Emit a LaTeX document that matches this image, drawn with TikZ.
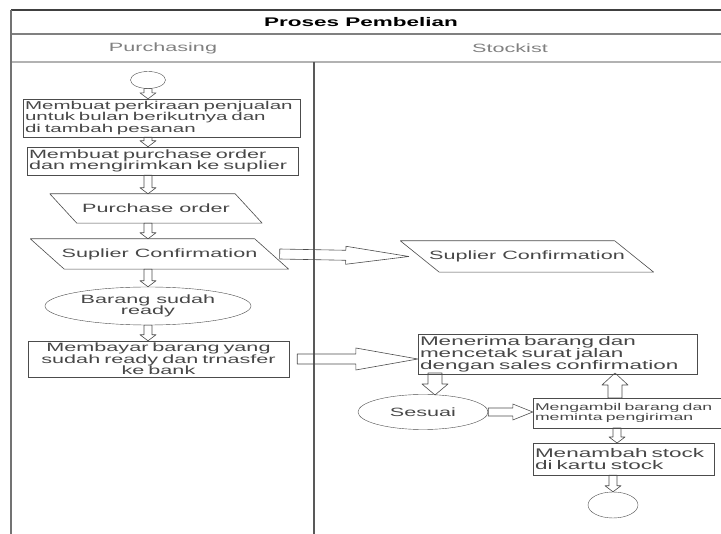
\documentclass[tikz,border=0pt]{standalone}
\usepackage{fontspec}
\newfontfamily\lanefont[FakeStretch=1.8]{Liberation Sans}
\usetikzlibrary{calc,shapes.geometric}
\def\blockarrow(#1)(#2)(#3:#4:#5){%
  \coordinate (ba) at (#1);
  \coordinate (bb) at (#2);
  \coordinate (bc) at ($(bb)!#5!(ba)$);
  \draw[arrowline] ($(ba)!#3!90:(bb)$) -- ($(bc)!#3!-90:(ba)$) -- ($(bc)!#4!-90:(ba)$) -- (bb)
    -- ($(bc)!#4!90:(ba)$) -- ($(bc)!#3!90:(ba)$) -- ($(ba)!#3!-90:(bb)$) -- cycle;}
\def\slantframe(#1)(#2){%
  \draw[arrowline] ([xshift=-#2/2]#1.north west) -- ([xshift=-#2/2]#1.north east)
    -- ([xshift=#2/2]#1.south east) -- ([xshift=#2/2]#1.south west) -- cycle;}

\tikzset{
  txt/.style={text=black!72, font=\lanefont\fontsize{12}{12}\selectfont},
  procbox/.style={txt, draw=black!70, rectangle, align=left, inner sep=2pt},
  ioshape/.style={txt, rectangle, inner sep=0pt},
  stateoval/.style={txt, draw=black!70, ellipse, align=center, inner sep=0pt},
  arrowline/.style={draw=black!70, line width=0.6pt, line join=round},
  laneline/.style={line width=1.6pt}
}

\begin{document}
\begin{tikzpicture}[x=1pt,y=-1pt]
		%%%%% START %%%%%
		\useasboundingbox (0,0) rectangle (721,534);
		
		\draw[laneline, color=black!75] (11, 10) -- (721, 10);
		\draw[laneline, color=black!50] (11, 34) -- (721, 34);
		\draw[laneline, color=black!30] (11, 62) -- (721, 62);
		\draw[laneline, color=black!55] (11, 10) -- (11, 534);
		\draw[laneline, color=black!65] (314, 62) -- (314, 534);
		
		\node[txt, text=black, font=\lanefont\bfseries\fontsize{12.5}{12.5}\selectfont] (title) at (361, 22) {Proses Pembelian};
		\node[txt, text=black!50] (hdpurch) at (163, 48) {Purchasing};
		\node[txt, text=black!50] (hdstock) at (510, 48) {Stockist};
		
		% purchasing
		\node[stateoval, minimum width=35, minimum height=17] (start) at (148, 80) {};
		\node[procbox, text width=273, minimum height=34, font=\lanefont\fontsize{11.4}{10.5}\selectfont] (perkiraan) at (161.5, 118)
			{Membuat perkiraan penjualan\\untuk bulan berikutnya dan\\di tambah pesanan};
		\node[procbox, text width=267, minimum height=28, font=\lanefont\fontsize{12}{11.5}\selectfont] (porder) at (162.5, 161)
			{Membuat purchase order\\dan mengirimkan ke suplier};
		\node[ioshape, minimum width=185, minimum height=29] (pordoc) at (156, 208.5) {Purchase order};
		\slantframe(pordoc)(27pt);
		\node[ioshape, minimum width=224, minimum height=30] (suplierl) at (159.5, 254) {Suplier Confirmation};
		\slantframe(suplierl)(34pt);
		\node[stateoval, minimum width=206, minimum height=38, font=\lanefont\fontsize{12}{11.5}\selectfont] (ready) at (148, 306) {Barang sudah\\ready};
		\node[procbox, text width=257, minimum height=36, align=center, font=\lanefont\fontsize{12}{11.5}\selectfont] (bayar) at (158.5, 359)
			{Membayar barang yang\\sudah ready dan trnasfer\\ke bank};
		
		% stockist
		\node[ioshape, minimum width=214, minimum height=31] (suplierr) at (527, 256.5) {Suplier Confirmation};
		\slantframe(suplierr)(39pt);
		\node[procbox, text width=275, minimum height=38, font=\lanefont\fontsize{12.5}{12}\selectfont] (terima) at (557.5, 354)
			{Menerima barang dan\\mencetak surat jalan\\dengan sales confirmation};
		\node[stateoval, minimum width=130, minimum height=35] (sesuai) at (423, 412) {Sesuai};
		\node[procbox, text width=184, minimum height=30, font=\lanefont\fontsize{9.8}{10}\selectfont] (ambil) at (627, 413)
			{Mengambil barang dan\\meminta pengiriman};
		\node[procbox, text width=177, minimum height=32, font=\lanefont\fontsize{12.5}{12}\selectfont] (tambah) at (623.5, 459)
			{Menambah stock\\di kartu stock};
		\node[stateoval, minimum width=50, minimum height=26] (end) at (613, 505) {};
		
		% arrows
		\blockarrow(start.south)(start.south |- perkiraan.north)(4pt:8pt:6pt);
		\blockarrow(start.south |- perkiraan.south)(start.south |- porder.north)(4pt:8pt:6pt);
		\blockarrow(start.south |- porder.south)(start.south |- pordoc.north)(4pt:8pt:6pt);
		\blockarrow(start.south |- pordoc.south)(start.south |- suplierl.north)(4pt:8pt:6pt);
		\blockarrow(start.south |- suplierl.south)(start.south |- ready.north)(4pt:8pt:6pt);
		\blockarrow(ready.south)(ready.south |- bayar.north)(4pt:8pt:6pt);
		
		\blockarrow([xshift=8pt]suplierl.east)([xshift=-11pt]suplierr.west)(5pt:9pt:63pt);
		\blockarrow([xshift=8pt]bayar.east)(terima.west |- bayar.east)(5pt:11pt:62pt);
		
		\blockarrow(435, 373)(435, 395)(7pt:13pt:11pt);
		\blockarrow(sesuai.east)(ambil.west |- sesuai.east)(4pt:8pt:20pt);
		\blockarrow(615, 398)(615, 373)(7pt:13pt:12pt);
		\blockarrow(617, 428)(617, 443)(4pt:8pt:6pt);
		\blockarrow(tambah.south -| end.north)(end.north)(4pt:8pt:6pt);
		
		%%%%% END %%%%%
	\end{tikzpicture}
\end{document}
